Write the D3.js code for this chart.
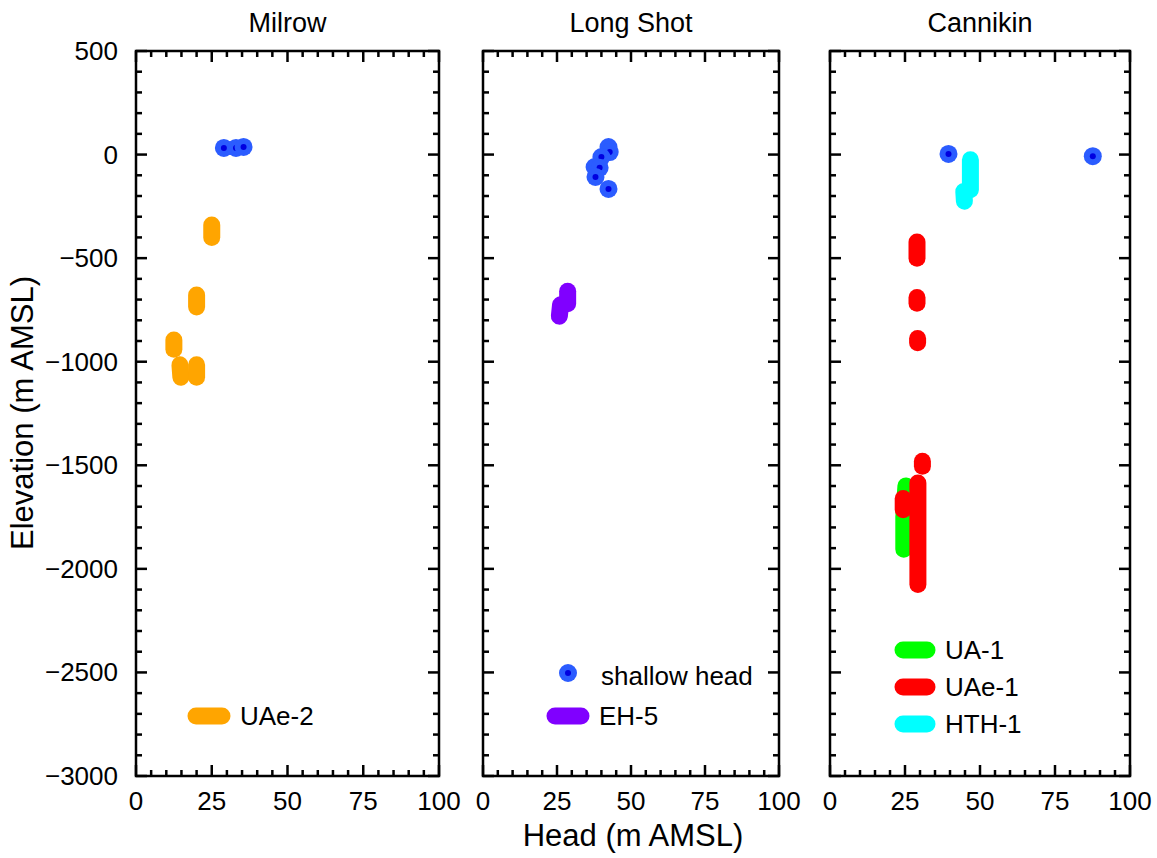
<!DOCTYPE html>
<html>
<head>
<meta charset="utf-8">
<script src="https://cdn.jsdelivr.net/npm/d3@7"></script>
<style>
  html, body { margin: 0; padding: 0; background: #fff; }
  svg { display: block; font-family: "Liberation Sans", Arial, sans-serif; }
</style>
</head>
<body>
<svg id="chart" width="1157" height="858"></svg>
<script>
// ---------------- data ----------------
const panelTitles = ["Milrow", "Long Shot", "Cannikin"];
const xTickValues = [0, 25, 50, 75, 100];
const yTickValues = [500, 0, -500, -1000, -1500, -2000, -2500, -3000];

// shallow head points [head, elevation]
const milrowShallow = [[29, 32], [33, 32], [35.5, 37]];
const longShotShallow = [[42.4, 36], [42.8, 12], [40, -12], [37.7, -60], [39.4, -64], [38, -108], [42.4, -166]];
const cannikinShallow = [[39.5, 3], [87.6, -8]];

// well segments: each segment is a list of [head, elevation]
const uae2Segments = [
  [[25, -340], [25, -400]],
  [[20, -678], [20, -736]],
  [[12.5, -895], [12.5, -940]],
  [[14.5, -1015], [14.8, -1075]],
  [[20, -1015], [20, -1075]]
];
const eh5Segments = [
  [[28.6, -660], [28.6, -720]],
  [[26.2, -725], [25.8, -780]]
];
const ua1Segments = [
  [[25.3, -1600], [24.6, -1750], [24.6, -1905]]
];
const uae1Segments = [
  [[29, -422], [29, -500]],
  [[29, -690], [29, -718]],
  [[29.2, -888], [29.2, -908]],
  [[30.8, -1480], [30.8, -1505]],
  [[29.3, -1585], [29.3, -2075]],
  [[24.4, -1660], [24.4, -1715]]
];
const hth1Segments = [
  [[46.8, -25], [46.8, -170]],
  [[44.6, -178], [44.8, -225]]
];

// ---------------- layout ----------------
const svg = d3.select("#chart");
const plotTop = 51, plotBottom = 776;
const panelX = [[136, 439], [483, 779], [830, 1130]];
const BLUE = "#2b5cff", BLUE_DOT = "#0000e0";
const wellColors = { "UAe-2": "#ffa500", "EH-5": "#8000ff", "UA-1": "#00ff00", "UAe-1": "#ff0000", "HTH-1": "#00ffff" };
const LW = 17;

const y = d3.scaleLinear().domain([-3000, 500]).range([plotBottom, plotTop]);
const lineGen = (x) => d3.line().x(d => x(d[0])).y(d => y(d[1]));

const panels = [
  { shallow: milrowShallow, wells: [["UAe-2", uae2Segments]] },
  { shallow: longShotShallow, wells: [["EH-5", eh5Segments]] },
  { shallow: cannikinShallow, wells: [["UA-1", ua1Segments], ["UAe-1", uae1Segments], ["HTH-1", hth1Segments]] }
];

panels.forEach((p, i) => {
  const [x0, x1] = panelX[i];
  const x = d3.scaleLinear().domain([0, 100]).range([x0, x1]);
  const g = svg.append("g");

  // wells
  p.wells.forEach(([name, segs]) => {
    g.selectAll(null).data(segs).enter().append("path")
      .attr("d", lineGen(x))
      .attr("fill", "none")
      .attr("stroke", wellColors[name])
      .attr("stroke-width", LW)
      .attr("stroke-linecap", "round")
      .attr("stroke-linejoin", "round");
  });

  // shallow head
  p.shallow.forEach(d => {
    g.append("circle").attr("cx", x(d[0])).attr("cy", y(d[1])).attr("r", 9).attr("fill", BLUE);
    g.append("circle").attr("cx", x(d[0])).attr("cy", y(d[1])).attr("r", 3).attr("fill", BLUE_DOT);
  });

  // ticks
  const minorX = d3.range(0, 101, 5);
  const minorY = d3.range(-3000, 501, 100);
  const tk = g.append("g").attr("stroke", "#000").attr("stroke-width", 2.5);
  minorX.forEach(v => {
    const L = v % 25 === 0 ? 11 : 6;
    tk.append("line").attr("x1", x(v)).attr("x2", x(v)).attr("y1", plotBottom).attr("y2", plotBottom - L);
    tk.append("line").attr("x1", x(v)).attr("x2", x(v)).attr("y1", plotTop).attr("y2", plotTop + L);
  });
  minorY.forEach(v => {
    const L = v % 500 === 0 ? 11 : 6;
    tk.append("line").attr("x1", x0).attr("x2", x0 + L).attr("y1", y(v)).attr("y2", y(v));
    tk.append("line").attr("x1", x1).attr("x2", x1 - L).attr("y1", y(v)).attr("y2", y(v));
  });

  // frame
  g.append("rect").attr("x", x0).attr("y", plotTop).attr("width", x1 - x0).attr("height", plotBottom - plotTop)
    .attr("fill", "none").attr("stroke", "#000").attr("stroke-width", 2.5);

  // x tick labels
  g.selectAll(null).data(xTickValues).enter().append("text")
    .attr("x", d => x(d)).attr("y", plotBottom + 34)
    .attr("text-anchor", "middle").attr("font-size", 26).text(d => d);

  // y tick labels (first panel only)
  if (i === 0) {
    g.selectAll(null).data(yTickValues).enter().append("text")
      .attr("x", x0 - 18).attr("y", d => y(d) + 9)
      .attr("text-anchor", "end").attr("font-size", 26)
      .text(d => d3.format("d")(d));
  }

  // title
  svg.append("text").attr("x", (x0 + x1) / 2).attr("y", 32)
    .attr("text-anchor", "middle").attr("font-size", 27).text(panelTitles[i]);
});

// ---------------- legends ----------------
function legendLine(x1, x2, yy, color, label) {
  svg.append("line").attr("x1", x1).attr("x2", x2).attr("y1", yy).attr("y2", yy)
    .attr("stroke", color).attr("stroke-width", LW).attr("stroke-linecap", "round");
  svg.append("text").attr("x", x2 + 18).attr("y", yy + 9).attr("font-size", 26).text(label);
}
legendLine(196, 222, 716, wellColors["UAe-2"], "UAe-2");

svg.append("circle").attr("cx", 568).attr("cy", 673).attr("r", 9).attr("fill", BLUE);
svg.append("circle").attr("cx", 568).attr("cy", 673).attr("r", 3).attr("fill", BLUE_DOT);
svg.append("text").attr("x", 601).attr("y", 685).attr("font-size", 26).text("shallow head");
legendLine(555, 581, 716, wellColors["EH-5"], "EH-5");

legendLine(903, 927, 650, wellColors["UA-1"], "UA-1");
legendLine(903, 927, 687, wellColors["UAe-1"], "UAe-1");
legendLine(903, 927, 724, wellColors["HTH-1"], "HTH-1");

// axis titles
svg.append("text").attr("x", 633).attr("y", 846).attr("text-anchor", "middle")
  .attr("font-size", 31).text("Head (m AMSL)");
svg.append("text").attr("transform", "translate(33,413) rotate(-90)")
  .attr("text-anchor", "middle").attr("font-size", 31).text("Elevation (m AMSL)");
</script>
</body>
</html>
